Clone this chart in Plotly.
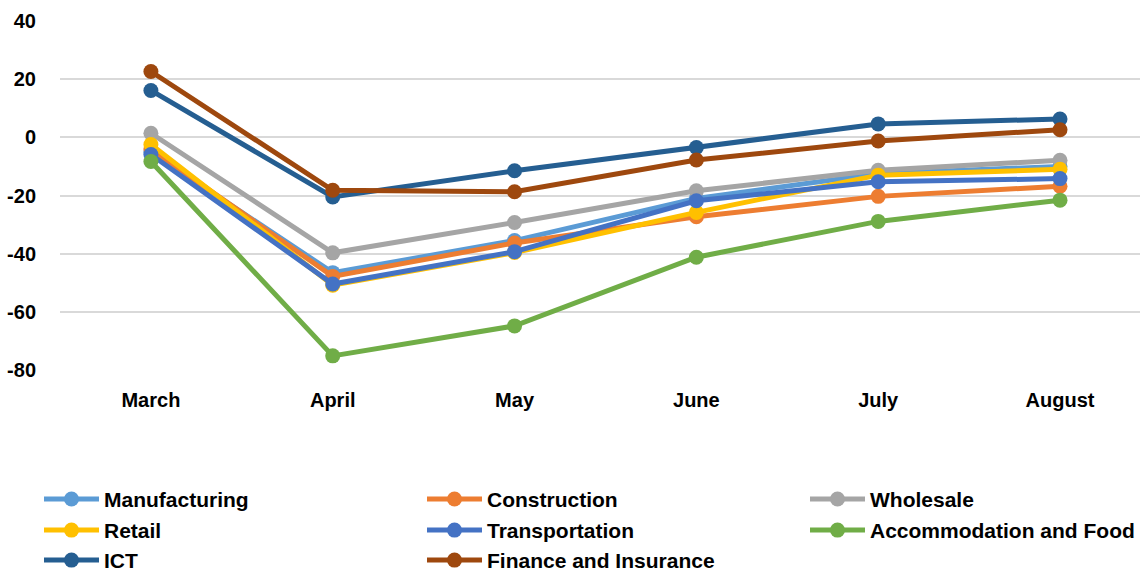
import plotly.graph_objects as go

months = ["March", "April", "May", "June", "July", "August"]

manufacturing = [-5.0, -46.5, -35.5, -21.0, -12.5, -10.0]
construction = [-4.0, -47.8, -36.3, -27.3, -20.3, -16.8]
wholesale = [1.4, -39.7, -29.3, -18.4, -11.3, -7.9]
retail = [-2.5, -50.8, -39.6, -25.8, -13.0, -11.0]
transportation = [-5.9, -50.4, -39.3, -21.8, -15.3, -14.2]
accommodation = [-8.3, -75.1, -64.8, -41.2, -28.9, -21.6]
ict = [16.1, -20.5, -11.5, -3.5, 4.6, 6.3]
finance = [22.6, -18.2, -18.7, -7.8, -1.3, 2.6]

y_tick_values = [40, 20, 0, -20, -40, -60, -80]
y_tick_labels = ["40", "20", "0", "-20", "-40", "-60", "-80"]

names = ["Manufacturing", "Construction", "Wholesale", "Retail", "Transportation",
         "Accommodation and Food", "ICT", "Finance and Insurance"]
series = [manufacturing, construction, wholesale, retail, transportation,
          accommodation, ict, finance]
colors = ["#5B9BD5", "#ED7D31", "#A5A5A5", "#FFC000", "#4472C4",
          "#70AD47", "#255E91", "#9E480E"]

FONT = "Liberation Sans"

# plot area in pixels
LEFT, TOP, BOT = 60, 20, 370.7
W = 1140 - LEFT
H = BOT - TOP

# legend grid (3 columns, rows filled left to right), pixel anchors
COL_PX = [39, 422, 805]
ROW_PX = [499, 530, 560]

fig = go.Figure()
legends = {}
for i, (name, vals, col) in enumerate(zip(names, series, colors)):
    lg = "legend" if i == 0 else f"legend{i + 1}"
    fig.add_trace(go.Scatter(
        x=months, y=vals, name=name, mode="lines+markers",
        line=dict(color=col, width=5),
        marker=dict(color=col, size=15),
        legend=lg,
    ))
    r, c = divmod(i, 3)
    legends[lg] = dict(
        orientation="v",
        x=(COL_PX[c] - LEFT) / W, y=(BOT - ROW_PX[r]) / H,
        xanchor="left", yanchor="middle", itemwidth=55,
        font=dict(family=FONT, size=21, color="black", weight="bold"),
        bgcolor="rgba(0,0,0,0)",
    )

fig.update_layout(
    width=1140, height=571,
    margin=dict(l=LEFT, r=0, t=TOP, b=571 - BOT, autoexpand=False),
    paper_bgcolor="white", plot_bgcolor="white",
    font=dict(family=FONT, size=20, color="black"),
    showlegend=True,
    xaxis=dict(
        type="category", range=[-0.5, 5.44], showgrid=False, zeroline=False,
        showline=False, ticks="", ticklabelstandoff=15, automargin=False,
        tickfont=dict(family=FONT, size=20, color="black", weight="bold"),
    ),
    yaxis=dict(
        range=[-80.3, 40.3], tickvals=y_tick_values, ticktext=y_tick_labels,
        showgrid=True, gridcolor="#D9D9D9", gridwidth=2, automargin=False,
        zeroline=False, showline=False, ticks="", ticklabelstandoff=23,
        tickfont=dict(family=FONT, size=20, color="black", weight="bold"),
    ),
    **legends,
)

fig.write_html(
    "out.html",
    config={"displayModeBar": False},
    post_script="document.body.style.margin='0';document.body.style.overflow='hidden';",
)
